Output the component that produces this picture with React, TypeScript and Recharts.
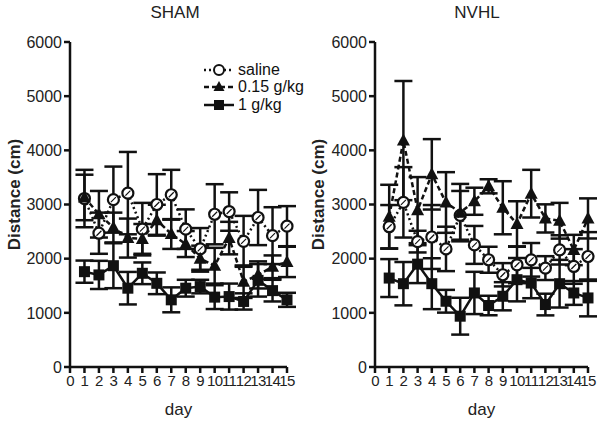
import React from "react";
import { LineChart, Line, XAxis, YAxis, ErrorBar } from "recharts";

const days = [1, 2, 3, 4, 5, 6, 7, 8, 9, 10, 11, 12, 13, 14, 15];
const xTicks = [0, 1, 2, 3, 4, 5, 6, 7, 8, 9, 10, 11, 12, 13, 14, 15];
const yTicks = [0, 1000, 2000, 3000, 4000, 5000, 6000];

const shamSaline = [3110, 2470, 3090, 3210, 2545, 3000, 3180, 2545, 2180, 2820, 2870, 2320, 2760, 2425, 2600];
const shamSalineErr = [530, 380, 610, 760, 485, 560, 460, 365, 385, 555, 355, 470, 510, 525, 370];
const shamLow = [3130, 2820, 2575, 2380, 2365, 2710, 2455, 2270, 2000, 1870, 2380, 1575, 1700, 1850, 1940];
const shamLowErr = [420, 430, 275, 360, 275, 285, 275, 240, 240, 330, 300, 300, 250, 210, 280];
const shamHigh = [1760, 1700, 1870, 1455, 1730, 1545, 1240, 1455, 1485, 1290, 1300, 1210, 1600, 1410, 1240];
const shamHighErr = [205, 260, 415, 300, 200, 200, 230, 155, 125, 220, 240, 150, 300, 200, 130];

const nvhlSaline = [2590, 3040, 2315, 2400, 2180, 2800, 2254, 1980, 1703, 1887, 1979, 1826, 2162, 1856, 2040];
const nvhlSalineErr = [400, 650, 200, 590, 410, 450, 350, 240, 215, 340, 310, 220, 270, 320, 450];
const nvhlLow = [2774, 4180, 2896, 3557, 3037, 2850, 3060, 3336, 2940, 2640, 3200, 2743, 2700, 2160, 2743];
const nvhlLowErr = [590, 1100, 610, 650, 560, 530, 250, 130, 490, 420, 440, 260, 330, 280, 370];
const nvhlHigh = [1642, 1538, 1899, 1538, 1214, 938, 1367, 1135, 1306, 1612, 1550, 1153, 1538, 1367, 1275];
const nvhlHighErr = [350, 400, 350, 470, 210, 340, 390, 180, 260, 400, 280, 200, 440, 220, 340];

const seriesNames = ["saline", "0.15 g/kg", "1 g/kg"];

const FONT = '"Liberation Sans", Arial, Helvetica, sans-serif';

function build(a: number[], ae: number[], b: number[], be: number[], c: number[], ce: number[]) {
  return days.map((d, i) => ({
    day: d,
    saline: a[i],
    salineErr: ae[i],
    low: b[i],
    lowErr: be[i],
    high: c[i],
    highErr: ce[i],
  }));
}

const shamData = build(shamSaline, shamSalineErr, shamLow, shamLowErr, shamHigh, shamHighErr);
const nvhlData = build(nvhlSaline, nvhlSalineErr, nvhlLow, nvhlLowErr, nvhlHigh, nvhlHighErr);

const CircleDot = (p: any) => {
  const { cx, cy, index } = p;
  if (cx == null || cy == null) return <g key={`c${index}`} />;
  return (
    <g key={`c${index}`}>
      <circle cx={cx} cy={cy} r={5.5} fill="#fff" stroke="#111" strokeWidth={2.2} />
      <line x1={cx - 2.5} y1={cy + 2.5} x2={cx + 2.5} y2={cy - 2.5} stroke="#111" strokeWidth={1.2} />
    </g>
  );
};
const TriDot = (p: any) => {
  const { cx, cy, index } = p;
  if (cx == null || cy == null) return <g key={`t${index}`} />;
  return <path key={`t${index}`} d={`M${cx},${cy - 7} L${cx + 6.5},${cy + 5} L${cx - 6.5},${cy + 5} Z`} fill="#111" />;
};
const SqDot = (p: any) => {
  const { cx, cy, index } = p;
  if (cx == null || cy == null) return <g key={`s${index}`} />;
  return <rect key={`s${index}`} x={cx - 5.5} y={cy - 5.5} width={11} height={11} fill="#111" />;
};

const LegendBox = () => {
  const row = (i: number) => (
    <div key={i} style={{ display: "flex", alignItems: "center", height: 17.5, whiteSpace: "nowrap" }}>
      <svg width={32} height={14} style={{ marginRight: 3 }}>
        <line
          x1={1}
          y1={7}
          x2={31}
          y2={7}
          stroke="#111"
          strokeWidth={2.5}
          strokeDasharray={i === 0 ? "2 3" : i === 1 ? "5 3" : undefined}
        />
        {i === 0 && <circle cx={16} cy={7} r={5} fill="#fff" stroke="#111" strokeWidth={2} />}
        {i === 1 && <path d="M16,1 L21.5,11 L10.5,11 Z" fill="#111" />}
        {i === 2 && <rect x={11} y={2} width={10} height={10} fill="#111" />}
      </svg>
      <span style={{ fontFamily: FONT, fontSize: 16, color: "#111" }}>{seriesNames[i]}</span>
    </div>
  );
  return (
    <div style={{ position: "absolute", left: 203, top: 61, width: 130 }}>{[0, 1, 2].map(row)}</div>
  );
};

function Panel({ data, left, width, yWidth, title, legend, labelX }: any) {
  const yLabel = (props: any) => {
    const vb = props.viewBox || {};
    const cy = (vb.y || 0) + (vb.height || 0) / 2 - 10;
    const cx = labelX;
    return (
      <text
        x={cx}
        y={cy}
        transform={`rotate(-90 ${cx} ${cy})`}
        textAnchor="middle"
        dominantBaseline="central"
        style={{ fontFamily: FONT, fontSize: 17, fontWeight: "bold", fill: "#222" }}
      >
        Distance (cm)
      </text>
    );
  };
  return (
    <div style={{ position: "absolute", left, top: 0, width, height: 421 }}>
      <LineChart
        width={width}
        height={421}
        data={data}
        margin={{ top: 42, right: width - yWidth - 217 + (left > 0 ? 4 : 0), bottom: 4, left: 0 }}
      >
        <XAxis
          dataKey="day"
          type="number"
          domain={[0, 15]}
          ticks={xTicks}
          interval={0}
          tickSize={6}
          tickLine={{ stroke: "#111", strokeWidth: 2.5 }}
          axisLine={{ stroke: "#111", strokeWidth: 2.5 }}
          tick={{ fontFamily: FONT, fontSize: 15, fill: "#222", letterSpacing: -0.6 }}
          height={50}
          label={{ value: "day", position: "insideBottom", offset: 2, style: { fontFamily: FONT, fontSize: 17, fill: "#222" } }}
        />
        <YAxis
          type="number"
          domain={[0, 6000]}
          ticks={yTicks}
          interval={0}
          tickSize={6}
          width={yWidth}
          tickLine={{ stroke: "#111", strokeWidth: 2.5 }}
          axisLine={{ stroke: "#111", strokeWidth: 2.5 }}
          tick={{ fontFamily: FONT, fontSize: 16, fill: "#222" }}
          label={{ content: yLabel }}
        />
        <Line
          dataKey="saline"
          stroke="#111"
          strokeWidth={2.5}
          strokeDasharray="2 3"
          dot={CircleDot}
          isAnimationActive={false}
        >
          <ErrorBar dataKey="salineErr" width={9} stroke="#111" strokeWidth={2.5} direction="y" />
        </Line>
        <Line
          dataKey="low"
          stroke="#111"
          strokeWidth={2.5}
          strokeDasharray="5 3"
          dot={TriDot}
          isAnimationActive={false}
        >
          <ErrorBar dataKey="lowErr" width={9} stroke="#111" strokeWidth={2.5} direction="y" />
        </Line>
        <Line dataKey="high" stroke="#111" strokeWidth={2.5} dot={SqDot} isAnimationActive={false}>
          <ErrorBar dataKey="highErr" width={9} stroke="#111" strokeWidth={2.5} direction="y" />
        </Line>
      </LineChart>
      {legend && <LegendBox />}
      <div
        style={{
          position: "absolute",
          top: 3,
          left: 0,
          width: "100%",
          textAlign: "center",
          fontFamily: FONT,
          fontSize: 17,
          color: "#222",
          paddingLeft: left > 0 ? 52 : 50,
          boxSizing: "border-box",
        }}
      >
        {title}
      </div>
    </div>
  );
}

export default function App() {
  return (
    <div style={{ position: "absolute", left: 0, top: 0, width: 602, height: 421, background: "#fff" }}>
      <Panel data={shamData} left={0} width={300} yWidth={70} title="SHAM" legend labelX={14} />
      <Panel data={nvhlData} left={300} width={302} yWidth={75} title="NVHL" labelX={18} />
    </div>
  );
}
